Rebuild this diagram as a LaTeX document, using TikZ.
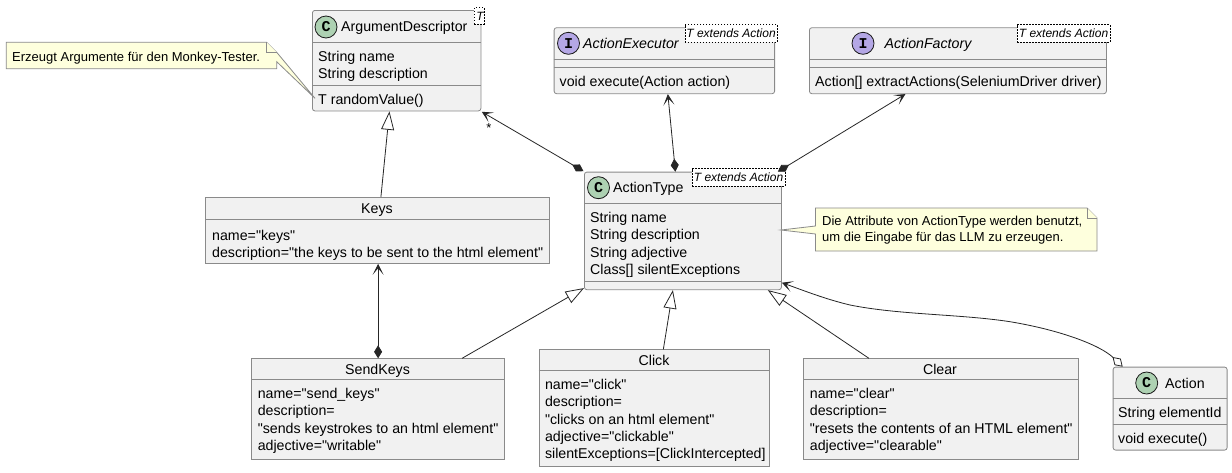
\documentclass[tikz,border=0pt]{standalone}
\usepackage{fontspec}
\setmainfont{Liberation Sans}[Ligatures=TeXOff]
\newfontfamily\spotfont{Liberation Mono}
\usetikzlibrary{arrows.meta}
\definecolor{boxfill}{HTML}{F1F1F1}
\definecolor{boxline}{HTML}{8A8A8A}
\definecolor{notefill}{HTML}{FEFFDD}
\definecolor{spotc}{HTML}{ADD1B2}
\definecolor{spoti}{HTML}{B4A7E5}
\tikzset{
	plainbox/.style={draw=boxline,fill=boxfill,line width=0.8pt,anchor=north west,inner sep=0pt},
	classbox/.style={plainbox,rounded corners=2.5pt},
	divider/.style={draw=boxline,line width=0.8pt},
	rows/.style={anchor=north west,inner sep=0pt,align=left,font=\fontsize{14.2}{17.3}\selectfont,execute at begin node=\strut},
	title/.style={anchor=west,inner sep=0pt,font=\fontsize{14.2}{17.3}\selectfont,execute at begin node=\strut},
	ctitle/.style={title,anchor=center},
	spot/.style={circle,draw=black!90,line width=0.8pt,minimum size=22pt,inner sep=0pt,font=\fontsize{15}{15}\spotfont\bfseries},
	template/.style={draw=black,dashed,dash pattern=on 1.5pt off 1.5pt,line width=0.6pt,fill=white,anchor=north west,inner sep=0pt,font=\fontsize{12}{14}\selectfont\itshape},
	notebox/.style={draw=boxline,fill=notefill,line width=0.8pt},
	notetext/.style={anchor=north west,inner sep=0pt,align=left,font=\fontsize{13}{16}\selectfont,execute at begin node=\strut},
	link/.style={draw=black!85,line width=0.8pt},
	comp/.style={{Diamond[length=13pt,width=8pt]}-{Stealth[length=11pt,width=11pt,inset=6.5pt]}},
	extends/.style={-{Triangle[open,length=18.5pt,width=13pt,fill=white]}}
}
\begin{document}
\begin{tikzpicture}[x=1pt,y=-1pt]
	\useasboundingbox (0,0) rectangle (1232,472);
	\fill[white] (0,0) rectangle (1232,472);
	%
	% upper row
	\node[classbox,minimum width=168.5pt,minimum height=100.5pt] (ArgDesc) at (312,10) {};
	\draw[divider] (312,42.5) -- (480.5,42.5);
	\draw[divider] (312,85.5) -- (480.5,85.5);
	\node[spot,fill=spotc] (ArgDescSpot) at (326,27) {C};
	\node[title] (ArgDescName) at (341,28.5) {ArgumentDescriptor};
	\node[template,minimum width=9.5pt,minimum height=16.7pt] (ArgDescT) at (474,7.3) {\,T};
	\node[rows] (ArgDescAttr) at (318,51) {String name\\String description};
	\node[rows] (ArgDescOp) at (318,92) {T randomValue()};
	%
	\node[classbox,minimum width=220.5pt,minimum height=66pt] (Executor) at (553.7,27.3) {};
	\draw[divider] (553.7,59.3) -- (774.2,59.3);
	\draw[divider] (553.7,67.3) -- (774.2,67.3);
	\node[spot,fill=spoti] (ExecutorSpot) at (568.5,43.3) {I};
	\node[title,font=\fontsize{14.2}{17.3}\selectfont\itshape] (ExecutorName) at (583,44.8) {ActionExecutor};
	\node[template,minimum width=92.5pt,minimum height=17.4pt] (ExecutorT) at (684.5,24.3) {T extends Action};
	\node[rows] (ExecutorOp) at (559.5,74) {void execute(Action action)};
	%
	\node[classbox,minimum width=297pt,minimum height=66pt] (Factory) at (809,27.3) {};
	\draw[divider] (809,59.3) -- (1106,59.3);
	\draw[divider] (809,67.3) -- (1106,67.3);
	\node[spot,fill=spoti] (FactorySpot) at (863,43.3) {I};
	\node[title,font=\fontsize{14.2}{17.3}\selectfont\itshape] (FactoryName) at (884.4,44.8) {ActionFactory};
	\node[template,minimum width=92.5pt,minimum height=17.4pt] (FactoryT) at (1017,24.3) {T extends Action};
	\node[rows] (FactoryOp) at (815,74) {Action[] extractActions(SeleniumDriver driver)};
	%
	% middle row
	\node[plainbox,minimum width=344pt,minimum height=66pt] (Keys) at (205,197) {};
	\draw[divider] (205,219) -- (549,219);
	\node[ctitle] (KeysName) at (377,210.5) {Keys};
	\node[rows] (KeysAttr) at (212,230) {name="keys"\\description="the keys to be sent to the html element"};
	%
	\node[classbox,minimum width=197pt,minimum height=117.6pt] (ActionType) at (584,171.7) {};
	\draw[divider] (584,203.3) -- (781,203.3);
	\draw[divider] (584,281.3) -- (781,281.3);
	\node[spot,fill=spotc] (ActionTypeSpot) at (598.5,187.7) {C};
	\node[title] (ActionTypeName) at (613,189.5) {ActionType};
	\node[template,minimum width=92.5pt,minimum height=17.4pt] (ActionTypeT) at (692,168.3) {T extends Action};
	\node[rows] (ActionTypeAttr) at (590,212) {String name\\String description\\String adjective\\Class[] silentExceptions};
	%
	% bottom row
	\node[plainbox,minimum width=252.6pt,minimum height=100.4pt] (SendKeys) at (251.4,358.3) {};
	\draw[divider] (251.4,379.3) -- (504,379.3);
	\node[ctitle] (SendKeysName) at (377.5,371.5) {SendKeys};
	\node[rows] (SendKeysAttr) at (257.6,388) {name="send\_keys"\\description=\\"sends keystrokes to an html element"\\adjective="writable"};
	%
	\node[plainbox,minimum width=230.7pt,minimum height=116.7pt] (Click) at (538.6,349.3) {};
	\draw[divider] (538.6,370.3) -- (769.3,370.3);
	\node[ctitle] (ClickName) at (654,362.5) {Click};
	\node[rows] (ClickAttr) at (544.8,379) {name="click"\\description=\\"clicks on an html element"\\adjective="clickable"\\silentExceptions=[ClickIntercepted]};
	%
	\node[plainbox,minimum width=274.4pt,minimum height=100.4pt] (Clear) at (803.3,358.3) {};
	\draw[divider] (803.3,379.3) -- (1077.7,379.3);
	\node[ctitle] (ClearName) at (940,371.5) {Clear};
	\node[rows] (ClearAttr) at (809.7,388) {name="clear"\\description=\\"resets the contents of an HTML element"\\adjective="clearable"};
	%
	\node[classbox,minimum width=114pt,minimum height=83pt] (Action) at (1112.7,366.7) {};
	\draw[divider] (1112.7,398.3) -- (1226.7,398.3);
	\draw[divider] (1112.7,424.3) -- (1226.7,424.3);
	\node[spot,fill=spotc] (ActionSpot) at (1146.7,383) {C};
	\node[title] (ActionName) at (1165,385) {Action};
	\node[rows] (ActionAttr) at (1118,405) {String elementId};
	\node[rows] (ActionOp) at (1118,431) {void execute()};
	%
	% notes
	\draw[notebox] (6.3,42.3) -- (266.7,42.3) -- (276.7,52.3) -- (315,98.3) -- (276.7,61.7) -- (276.7,68.7) -- (6.3,68.7) -- cycle;
	\draw[notebox] (266.7,42.3) -- (266.7,52.3) -- (276.7,52.3);
	\node[notetext] (NoteArgs) at (12,50.5) {Erzeugt Argumente für den Monkey-Tester.};
	%
	\draw[notebox] (815.5,208) -- (1087,208) -- (1097,218) -- (1097,251) -- (815.5,251) -- (815.5,234) -- (781,230) -- (815.5,226) -- cycle;
	\draw[notebox] (1087,208) -- (1087,218) -- (1097,218);
	\node[notetext] (NoteAttr) at (822,215.5) {Die Attribute von ActionType werden benutzt,\\um die Eingabe für das LLM zu erzeugen.};
	%
	% connectors
	\draw[link,comp] ([xshift=-0.5pt,yshift=0.5pt]ActionType.north west) -- ([xshift=0.5pt,yshift=-0.5pt]ArgDesc.south east);
	\draw[link,comp] ([xshift=-7.5pt]ActionType.north) -- ([xshift=3.5pt]Executor.south);
	\draw[link,comp] ([xshift=-4pt]ActionType.north east) -- ([xshift=-52.5pt]Factory.south);
	\draw[link,comp] (SendKeys.north) -- (SendKeys.north |- Keys.south);
	\draw[link,extends] ([xshift=84pt]SendKeys.north) -- ([yshift=2pt]ActionType.south west);
	\draw[link,extends] ([xshift=9pt]Click.north) -- ([xshift=-10pt]ActionType.south);
	\draw[link,extends] ([xshift=-72pt]Clear.north) -- ([xshift=-14pt]ActionType.south east);
	\draw[link,extends] ([xshift=3.5pt]Keys.north) -- ([xshift=-7.2pt]ArgDesc.south);
	\draw[link,{Diamond[open,length=14pt,width=9pt,fill=white]}-{Stealth[length=11pt,width=11pt,inset=6.5pt]}] ([xshift=10pt]Action.north west) .. controls (1100,345) and (1060,330) .. (1010,321.7) .. controls (960,314) and (900,315) .. (850,305) .. controls (825,299) and (805,291) .. (ActionType.south east |- 0,282.7);
	\node[inner sep=0pt,font=\fontsize{13}{13}\selectfont] (Many) at (489,128) {*};
\end{tikzpicture}
\end{document}
